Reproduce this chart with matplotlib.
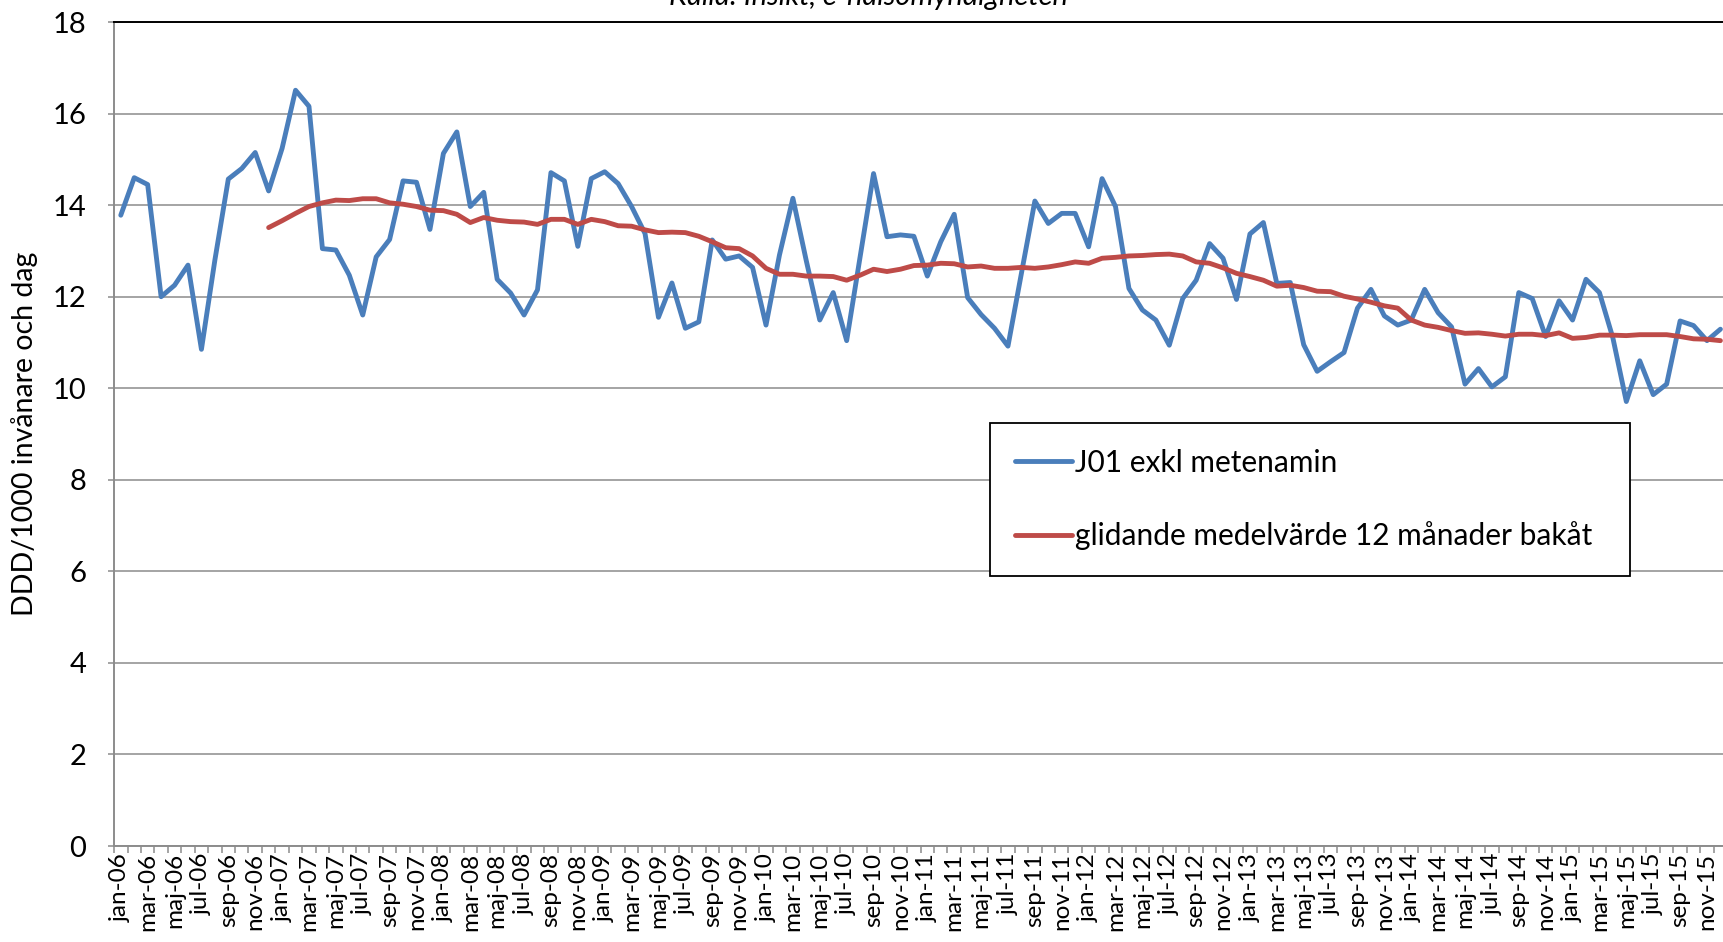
"""
Antibiotikaförskrivning J01 exkl metenamin, DDD/1000 invånare och dag,
månadsvis jan-06 – dec-15 med glidande 12-månaders medelvärde.
"""

import numpy as np
import matplotlib
matplotlib.use("Agg")
import matplotlib.pyplot as plt
from matplotlib.ticker import MultipleLocator

# ─── Data ────────────────────────────────────────────────────────────────────
month_names = ["jan", "feb", "mar", "apr", "maj", "jun",
               "jul", "aug", "sep", "okt", "nov", "dec"]
years = ["06", "07", "08", "09", "10", "11", "12", "13", "14", "15"]

j01 = [
    13.78, 14.60, 14.45, 12.00, 12.25, 12.69, 10.85, 12.80, 14.57, 14.80, 15.15, 14.31,  # 2006
    15.24, 16.51, 16.16, 13.05, 13.02, 12.47, 11.60, 12.87, 13.25, 14.53, 14.50, 13.47,  # 2007
    15.13, 15.60, 13.97, 14.28, 12.38, 12.08, 11.60, 12.15, 14.71, 14.53, 13.10, 14.58,  # 2008
    14.73, 14.47, 13.97, 13.38, 11.55, 12.30, 11.31, 11.45, 13.24, 12.82, 12.89, 12.64,  # 2009
    11.38, 12.91, 14.15, 12.78, 11.49, 12.09, 11.04, 12.87, 14.69, 13.31, 13.35, 13.32,  # 2010
    12.45, 13.20, 13.80, 11.98, 11.61, 11.31, 10.92, 12.51, 14.09, 13.60, 13.82, 13.82,  # 2011
    13.09, 14.58, 13.97, 12.18, 11.71, 11.49, 10.94, 11.96, 12.36, 13.16, 12.84, 11.94,  # 2012
    13.37, 13.62, 12.29, 12.31, 10.95, 10.37, 10.58, 10.78, 11.75, 12.16, 11.58, 11.38,  # 2013
    11.49, 12.16, 11.65, 11.34, 10.09, 10.43, 10.03, 10.25, 12.09, 11.96, 11.13, 11.91,  # 2014
    11.49, 12.38, 12.09, 11.10, 9.71, 10.60, 9.86, 10.09, 11.47, 11.37, 11.04, 11.29,    # 2015
]

# glidande medelvärde, första värdet dec-06
moving_avg = [
    13.51,                                                                                # 2006
    13.66, 13.82, 13.97, 14.05, 14.11, 14.10, 14.14, 14.14, 14.05, 14.02, 13.97, 13.89,  # 2007
    13.88, 13.80, 13.62, 13.73, 13.67, 13.64, 13.63, 13.58, 13.69, 13.69, 13.58, 13.69,  # 2008
    13.64, 13.55, 13.54, 13.46, 13.40, 13.41, 13.40, 13.32, 13.20, 13.07, 13.05, 12.89,  # 2009
    12.62, 12.49, 12.49, 12.45, 12.45, 12.44, 12.36, 12.47, 12.60, 12.55, 12.60, 12.68,  # 2010
    12.69, 12.73, 12.72, 12.65, 12.67, 12.62, 12.62, 12.64, 12.62, 12.65, 12.70, 12.76,  # 2011
    12.73, 12.84, 12.86, 12.89, 12.90, 12.92, 12.93, 12.89, 12.76, 12.73, 12.63, 12.51,  # 2012
    12.44, 12.36, 12.23, 12.25, 12.20, 12.12, 12.11, 12.01, 11.95, 11.88, 11.80, 11.75,  # 2013
    11.49, 11.38, 11.33, 11.26, 11.20, 11.21, 11.18, 11.14, 11.18, 11.18, 11.15, 11.21,  # 2014
    11.09, 11.11, 11.16, 11.16, 11.15, 11.17, 11.17, 11.17, 11.13, 11.08, 11.07, 11.04,  # 2015
]

labels = [f"{m}-{y}" for y in years for m in month_names]
n = len(j01)
x = np.arange(n)
ma = np.full(n, np.nan)
ma[n - len(moving_avg):] = moving_avg

# ─── Style ───────────────────────────────────────────────────────────────────
plt.rcParams["font.family"] = ["Lato", "DejaVu Sans"]
BLUE = "#4A7EBB"
RED = "#BE4B48"
GRID = "#8C8C8C"
FS = 21

fig = plt.figure(figsize=(17.23, 9.42), dpi=100)
ax = fig.add_axes([0.0662, 0.1019, 0.9362, 0.8747])

ax.plot(x, j01, color=BLUE, linewidth=3.5, solid_joinstyle="round",
        solid_capstyle="round", label="J01 exkl metenamin", zorder=3)
ax.plot(x, ma, color=RED, linewidth=3.5, solid_joinstyle="round",
        solid_capstyle="round", label="glidande medelvärde 12 månader bakåt", zorder=4)

# ─── Axes ────────────────────────────────────────────────────────────────────
ax.set_xlim(-0.5, n - 0.5)
ax.set_ylim(0, 18)
ax.yaxis.set_major_locator(MultipleLocator(2))
ax.grid(axis="y", color=GRID, linewidth=1.1)
ax.set_axisbelow(True)

ax.set_xticks(x[::2])
ax.set_xticklabels(labels[::2], rotation=90, fontsize=17.5)
ax.set_xticks(np.arange(n + 1) - 0.5, minor=True)
ax.tick_params(axis="x", which="major", length=0, pad=5)
ax.tick_params(axis="x", which="minor", length=5, width=1.1, color=GRID)
ax.tick_params(axis="y", length=4, width=1.1, color=GRID, pad=16, labelsize=FS)

for side in ["left", "bottom"]:
    ax.spines[side].set_color(GRID)
    ax.spines[side].set_linewidth(1.4)
ax.spines["top"].set_color("black")
ax.spines["top"].set_linewidth(1.4)
ax.spines["right"].set_visible(False)

ax.set_ylabel("DDD/1000 invånare och dag", fontsize=20.5)
ax.yaxis.set_label_coords(-0.047, 0.5)

leg = ax.legend(loc="upper left", bbox_to_anchor=(0.543, 0.332, 0.397, 0.181),
                mode="expand", borderaxespad=0, fontsize=21.5, fancybox=False,
                framealpha=1, edgecolor="black", borderpad=0.85, labelspacing=1.5,
                handlelength=1.9, handletextpad=0.1)
leg.get_frame().set_linewidth(1.3)

fig.text(0.504, 1 - 5 / 942, "Källa: Insikt, e-hälsomyndigheten",
         ha="center", va="baseline", fontsize=21, style="italic")

fig.savefig("out.png", dpi=100)
